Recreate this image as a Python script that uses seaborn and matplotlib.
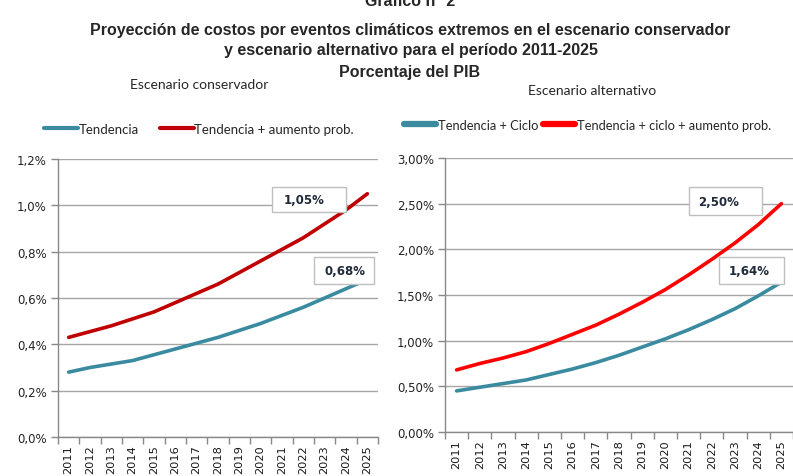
import numpy as np
import pandas as pd
import matplotlib
matplotlib.use('Agg')
import matplotlib.pyplot as plt
import matplotlib.ticker as mticker
from matplotlib.lines import Line2D
from matplotlib.patches import Rectangle
import seaborn as sns

years = list(range(2011, 2026))

# escenario conservador (% del PIB)
cons_tendencia = [0.28, 0.30, 0.315, 0.33, 0.355, 0.38, 0.405, 0.43, 0.46, 0.49, 0.525, 0.56, 0.60, 0.64, 0.68]
cons_aumento = [0.43, 0.455, 0.48, 0.51, 0.54, 0.58, 0.62, 0.66, 0.71, 0.76, 0.81, 0.86, 0.92, 0.98, 1.05]

# escenario alternativo (% del PIB)
alt_ciclo = [0.45, 0.49, 0.53, 0.57, 0.63, 0.69, 0.76, 0.84, 0.93, 1.02, 1.12, 1.23, 1.35, 1.49, 1.64]
alt_aumento = [0.68, 0.75, 0.81, 0.88, 0.97, 1.07, 1.17, 1.29, 1.42, 1.56, 1.72, 1.89, 2.07, 2.27, 2.50]

cons_labels = ['Tendencia', 'Tendencia + aumento prob.']
alt_labels = ['Tendencia + Ciclo', 'Tendencia + ciclo + aumento prob.']
cons_end = ['1,05%', '0,68%']
alt_end = ['2,50%', '1,64%']

TEAL = '#3a8ba0'
DARK_RED = '#c00000'
RED = '#ff0000'
GRID = '#a6a6a6'

sns.set_style('white')
plt.rcParams['font.family'] = ['DejaVu Sans']

W, H = 793, 477
fig = plt.figure(figsize=(W / 100, H / 100), dpi=100)


def px_axes(x0, y_top, x1, y_bot):
    return fig.add_axes([x0 / W, 1 - y_bot / H, (x1 - x0) / W, (y_bot - y_top) / H])


def style_axes(ax, ymax, step, fmt):
    ax.set_xlim(2010.5, 2025.5)
    ax.set_ylim(0, ymax)
    ax.set_yticks(np.arange(0, ymax + step / 2, step))
    ax.yaxis.set_major_formatter(mticker.FuncFormatter(lambda v, p: fmt.format(v).replace('.', ',') + '%'))
    ax.set_xticks(years)
    ax.set_xticklabels([str(y) for y in years], rotation=90, fontsize=8.2, color='#1a1a1a',
                       family=['DejaVu Sans'])
    ax.set_xticks(np.arange(2010.5, 2026, 1), minor=True)
    ax.tick_params(axis='x', which='major', length=0, pad=5)
    ax.tick_params(axis='x', which='minor', length=5, width=1, color='#888888', direction='out', bottom=True)
    ax.tick_params(axis='y', which='major', length=5, width=1, color='#888888', direction='out', left=True,
                   labelsize=8.5, labelcolor='#222222', pad=3)
    for t in ax.get_yticklabels():
        t.set_family(['DejaVu Sans'])
    ax.grid(axis='y', color=GRID, lw=1)
    ax.grid(axis='x', visible=False)
    for s in ['top', 'right']:
        ax.spines[s].set_visible(False)
    for s in ['left', 'bottom']:
        ax.spines[s].set_color('#888888')
        ax.spines[s].set_linewidth(1)
    ax.set_xlabel('')
    ax.set_ylabel('')
    ax.set_axisbelow(True)


def label_box(ax, box, text_xy, text):
    x0, y0, x1, y1 = box
    ax.add_patch(Rectangle((x0, y0), x1 - x0, y1 - y0, transform=ax.transAxes, facecolor='white',
                           edgecolor='#bfbfbf', lw=1, zorder=5, clip_on=False))
    ax.text(text_xy[0], text_xy[1], text, transform=ax.transAxes, ha='center', va='center',
            fontsize=8.5, fontweight='bold', color='#1f2a3a', zorder=6)


# ---- left: escenario conservador
df_c = pd.DataFrame({'year': years * 2,
                     'valor': cons_tendencia + cons_aumento,
                     'serie': [cons_labels[0]] * 15 + [cons_labels[1]] * 15})
ax1 = px_axes(58, 160, 378, 438)
sns.lineplot(data=df_c, x='year', y='valor', hue='serie', palette=[TEAL, DARK_RED],
             linewidth=2.6, legend=False, ax=ax1)
style_axes(ax1, 1.2, 0.2, '{:.1f}')
label_box(ax1, (0.669, 0.809, 0.900, 0.899), (0.769, 0.856), cons_end[0])
label_box(ax1, (0.800, 0.550, 0.9875, 0.647), (0.897, 0.599), cons_end[1])

# ---- right: escenario alternativo
df_a = pd.DataFrame({'year': years * 2,
                     'valor': alt_ciclo + alt_aumento,
                     'serie': [alt_labels[0]] * 15 + [alt_labels[1]] * 15})
ax2 = px_axes(445, 159, 793, 433)
sns.lineplot(data=df_a, x='year', y='valor', hue='serie', palette=[TEAL, RED],
             linewidth=2.6, legend=False, ax=ax2)
style_axes(ax2, 3.0, 0.5, '{:.2f}')
label_box(ax2, (0.701, 0.792, 0.911, 0.894), (0.787, 0.843), alt_end[0])
label_box(ax2, (0.787, 0.540, 0.974, 0.639), (0.874, 0.589), alt_end[1])

# ---- legends
leg_font = ['Lato', 'DejaVu Sans']
h1 = [Line2D([], [], color=TEAL, lw=3), Line2D([], [], color=DARK_RED, lw=3)]
fig.legend(h1, cons_labels, loc='center left', bbox_to_anchor=(44 / W, 1 - 130 / H), ncol=2,
           frameon=False, handlelength=2.6, handletextpad=0.0, columnspacing=1.6,
           prop={'family': leg_font, 'size': 9.5}, borderaxespad=0, borderpad=0)
h2 = [Line2D([], [], color=TEAL, lw=4.5), Line2D([], [], color=RED, lw=4.5)]
fig.legend(h2, alt_labels, loc='center left', bbox_to_anchor=(404 / W, 1 - 126 / H), ncol=2,
           frameon=False, handlelength=2.5, handletextpad=0.1, columnspacing=0.4,
           prop={'family': leg_font, 'size': 9.3}, borderaxespad=0, borderpad=0)

# ---- titles
title_font = ['Liberation Sans Narrow', 'Liberation Sans', 'DejaVu Sans']
fig.text(410 / W, 1 - 1 / H, 'Gráfico n° 2', ha='center', va='center', fontsize=11.5,
         fontweight='bold', family=title_font)
fig.text(410 / W, 1 - 30 / H, 'Proyección de costos por eventos climáticos extremos en el escenario conservador',
         ha='center', va='center', fontsize=11.5, fontweight='bold', family=title_font)
fig.text(411 / W, 1 - 51 / H, 'y escenario alternativo para el período 2011-2025',
         ha='center', va='center', fontsize=11.5, fontweight='bold', family=title_font)
fig.text(410 / W, 1 - 72 / H, 'Porcentaje del PIB', ha='center', va='center', fontsize=11.5,
         fontweight='bold', family=title_font)
fig.text(199 / W, 1 - 85 / H, 'Escenario conservador', ha='center', va='center', fontsize=10,
         family=leg_font)
fig.text(592 / W, 1 - 91 / H, 'Escenario alternativo', ha='center', va='center', fontsize=10,
         family=leg_font)

fig.savefig('out.png', dpi=100)
